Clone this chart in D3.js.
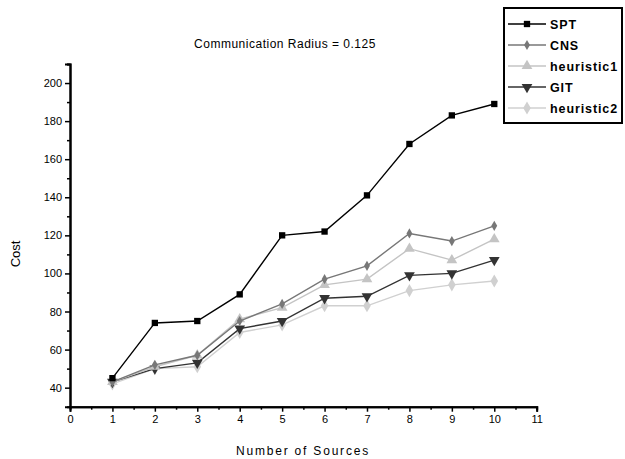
<!DOCTYPE html>
<html><head><meta charset="utf-8">
<script src="https://cdn.jsdelivr.net/npm/d3@7"></script>
<style>body{margin:0;background:#fff}svg{display:block}text{font-family:"Liberation Sans",Arial,sans-serif}</style>
</head><body><svg id="c" width="625" height="459"></svg>
<script>
const xValues = [1,2,3,4,5,6,7,8,9,10];
const seriesNames = ["SPT","CNS","heuristic1","GIT","heuristic2"];
const SPT = [45,74,75,89,120,122,141,168,183,189];
const CNS = [43,52,57,75,84,97,104,121,117,125];
const heuristic1 = [43,51,57,76,82,94,97,113,107,118];
const GIT = [43,50,53,71,75,87,88,99,100,107];
const heuristic2 = [42,50,51,69,73,83,83,91,94,96];
const xTicks = [0,1,2,3,4,5,6,7,8,9,10,11];
const yTicks = [40,60,80,100,120,140,160,180,200];
const titleText = "Communication Radius = 0.125";
const xTitle = "Number of Sources";
const yTitle = "Cost";

const svg = d3.select("#c");
const x = d3.scaleLinear().domain([0,11]).range([70,536.7]);
const y = d3.scaleLinear().domain([30,210]).range([406.7,64]);

const styles = [
  {color:"#000", sym:d3.symbolSquare, size:40, rot:0},
  {color:"#777", sym:d3.symbolDiamond, size:30, rot:0},
  {color:"#c4c4c4", sym:d3.symbolTriangle, size:50, rot:0},
  {color:"#333", sym:d3.symbolTriangle, size:50, rot:180},
  {color:"#d0d0d0", sym:d3.symbolDiamond, size:50, rot:0}
];
const data = [SPT,CNS,heuristic1,GIT,heuristic2];

const yAxis = d3.axisLeft(y).tickValues(yTicks).tickSize(5).tickPadding(3);
const yMinor = d3.axisLeft(y).tickValues(d3.range(50,211,20)).tickSize(3).tickFormat("");
const xAxis = d3.axisBottom(x).tickValues(xTicks).tickSize(5).tickPadding(4);
const xMinor = d3.axisBottom(x).tickValues(d3.range(0.5,11,1)).tickSize(3).tickFormat("");

function styleAxis(g){
  g.select(".domain").attr("stroke","#000").attr("stroke-width",2);
  g.selectAll(".tick line").attr("stroke","#000").attr("stroke-width",1.5);
  g.selectAll("text").attr("font-size",11).attr("fill","#000").attr("font-family","Liberation Sans, Arial, sans-serif");
}
svg.append("g").attr("transform","translate(70,0)").call(yAxis).call(styleAxis);
svg.append("g").attr("transform","translate(70,0)").call(yMinor).call(styleAxis);
svg.append("g").attr("transform","translate(0,406.7)").call(xAxis).call(styleAxis);
svg.append("g").attr("transform","translate(0,406.7)").call(xMinor).call(styleAxis);

const line = d3.line().x((d,i)=>x(xValues[i])).y(d=>y(d));
for (let k=data.length-1;k>=0;k--){
  const s = styles[k];
  svg.append("path").datum(data[k]).attr("d",line).attr("fill","none")
    .attr("stroke",s.color).attr("stroke-width",1.4);
  svg.append("g").selectAll("path").data(data[k]).join("path")
    .attr("d",d3.symbol().type(s.sym).size(s.size))
    .attr("transform",(d,i)=>`translate(${x(xValues[i])},${y(d)}) rotate(${s.rot})`)
    .attr("fill",s.color);
}

svg.append("text").attr("x",285).attr("y",48).attr("text-anchor","middle")
  .attr("font-size",12).attr("letter-spacing",0.5).text(titleText);
svg.append("text").attr("x",303).attr("y",455).attr("text-anchor","middle")
  .attr("font-size",12).attr("letter-spacing",1.8).text(xTitle);
svg.append("text").attr("transform","translate(20,254) rotate(-90)").attr("text-anchor","middle")
  .attr("font-size",13).text(yTitle);

svg.append("rect").attr("x",504).attr("y",8).attr("width",118).attr("height",115)
  .attr("fill","#fff").attr("stroke","#000").attr("stroke-width",2);
const ly = d3.scaleLinear().domain([0,4]).range([24,108]);
seriesNames.forEach((n,k)=>{
  const s = styles[k], yy = ly(k);
  svg.append("line").attr("x1",508).attr("x2",546).attr("y1",yy).attr("y2",yy)
    .attr("stroke",s.color).attr("stroke-width",1.4);
  svg.append("path").attr("d",d3.symbol().type(s.sym).size(s.size))
    .attr("transform",`translate(527,${yy}) rotate(${s.rot})`).attr("fill",s.color);
  svg.append("text").attr("x",550).attr("y",yy+4.5).attr("font-size",12.5)
    .attr("font-weight","bold").attr("letter-spacing",0.9).text(n);
});
</script></body></html>
